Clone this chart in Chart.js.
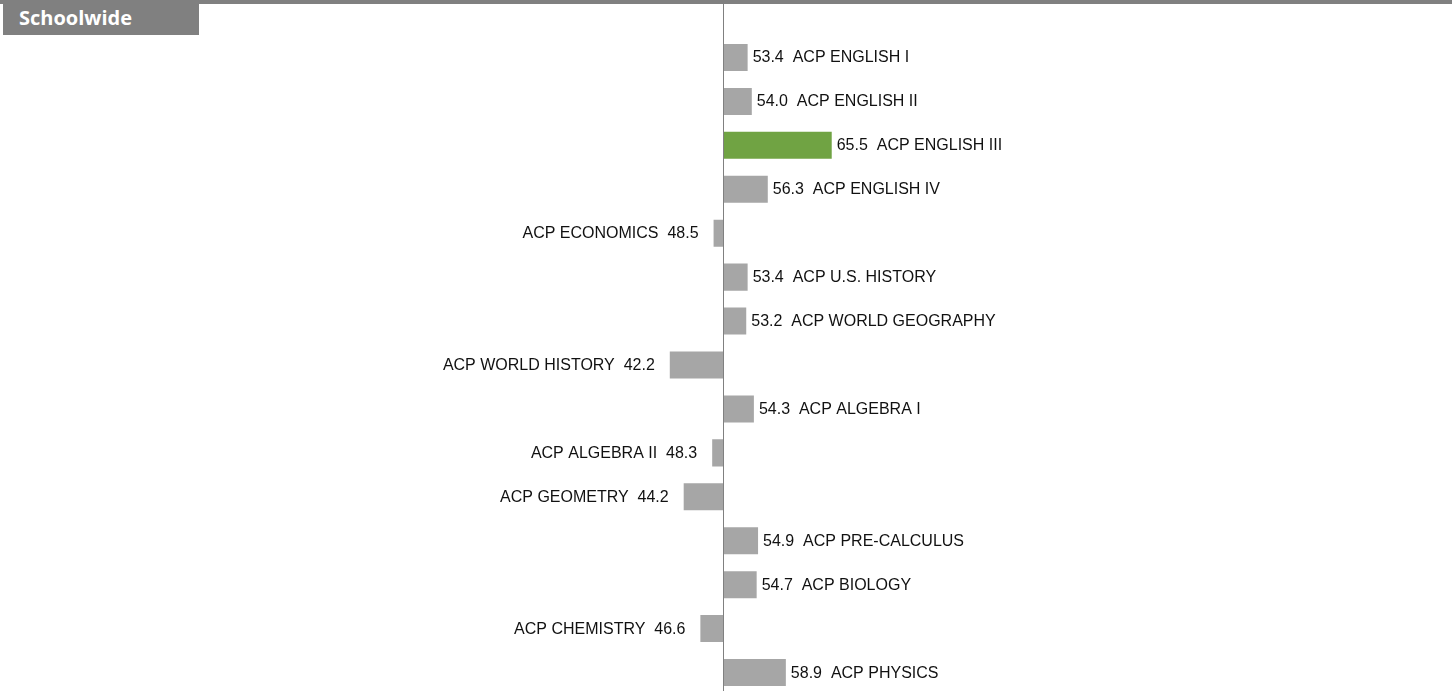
<!DOCTYPE html>
<html>
<head>
<meta charset="utf-8">
<script src="https://cdn.jsdelivr.net/npm/chart.js@4.4.1/dist/chart.umd.min.js"></script>
<style>
  html, body { margin:0; padding:0; background:#fff; overflow:hidden; }
  body { width:1452px; height:691px; position:relative; }
  #strip { position:absolute; left:0; top:0; width:1452px; height:4px; background:#808080; }
  #tab { position:absolute; left:3px; top:0; width:196px; height:35px; background:#808080;
         color:#fff; font:bold 20px "Open Sans", sans-serif; line-height:36px; padding-left:16px; box-sizing:border-box; }
  #wrap { position:absolute; left:0; top:0; width:1452px; height:700px; }
</style>
</head>
<body>
<div id="wrap"><canvas id="chart"></canvas></div>
<div id="strip"></div>
<div id="tab">Schoolwide</div>
<script>
const courses = ['ACP ENGLISH I','ACP ENGLISH II','ACP ENGLISH III','ACP ENGLISH IV','ACP ECONOMICS',
  'ACP U.S. HISTORY','ACP WORLD GEOGRAPHY','ACP WORLD HISTORY','ACP ALGEBRA I','ACP ALGEBRA II',
  'ACP GEOMETRY','ACP PRE-CALCULUS','ACP BIOLOGY','ACP CHEMISTRY','ACP PHYSICS'];
const scores = [53.4, 54.0, 65.5, 56.3, 48.5, 53.4, 53.2, 42.2, 54.3, 48.3, 44.2, 54.9, 54.7, 46.6, 58.9];
const baseline = 50;
const highlight = 'ACP ENGLISH III';

// labels next to each bar: value first on the right side, name first on the left
const barLabels = {
  id:'barLabels',
  afterDatasetsDraw(chart){
    const c = chart.ctx;
    const meta = chart.getDatasetMeta(0);
    c.save();
    c.font = '16px "Liberation Sans", Arial, sans-serif';
    c.fillStyle = '#111';
    c.textBaseline = 'alphabetic';
    meta.data.forEach((bar, i)=>{
      const v = scores[i];
      const y = bar.y + 5;
      if (v >= baseline) {
        c.textAlign = 'left';
        c.fillText(v.toFixed(1) + '  ' + courses[i], bar.x + 5, y);
      } else {
        c.textAlign = 'right';
        c.fillText(courses[i] + '  ' + v.toFixed(1), bar.x - 15, y);
      }
    });
    // axis line at the baseline
    const x = Math.round(chart.scales.x.getPixelForValue(baseline)) - 0.5;
    c.strokeStyle = '#808080';
    c.lineWidth = 1;
    c.beginPath();
    c.moveTo(x, 4);
    c.lineTo(x, chart.height);
    c.stroke();
    c.restore();
  }
};

new Chart(document.getElementById('chart'), {
  type:'bar',
  data:{
    labels:courses,
    datasets:[{
      data:scores,
      base:baseline,
      backgroundColor:courses.map(c => c === highlight ? '#70a343' : '#a6a6a6'),
      categoryPercentage:1,
      barPercentage:0.615
    }]
  },
  options:{
    indexAxis:'y',
    responsive:true, maintainAspectRatio:false, animation:false,
    layout:{padding:{top:35.5, bottom:5.5, left:0, right:0}},
    scales:{
      x:{display:false, min:50 - 724/6.95, max:50 + 728/6.95},
      y:{display:false}
    },
    plugins:{legend:{display:false}, tooltip:{enabled:false}}
  },
  plugins:[barLabels]
});
</script>
</body>
</html>
